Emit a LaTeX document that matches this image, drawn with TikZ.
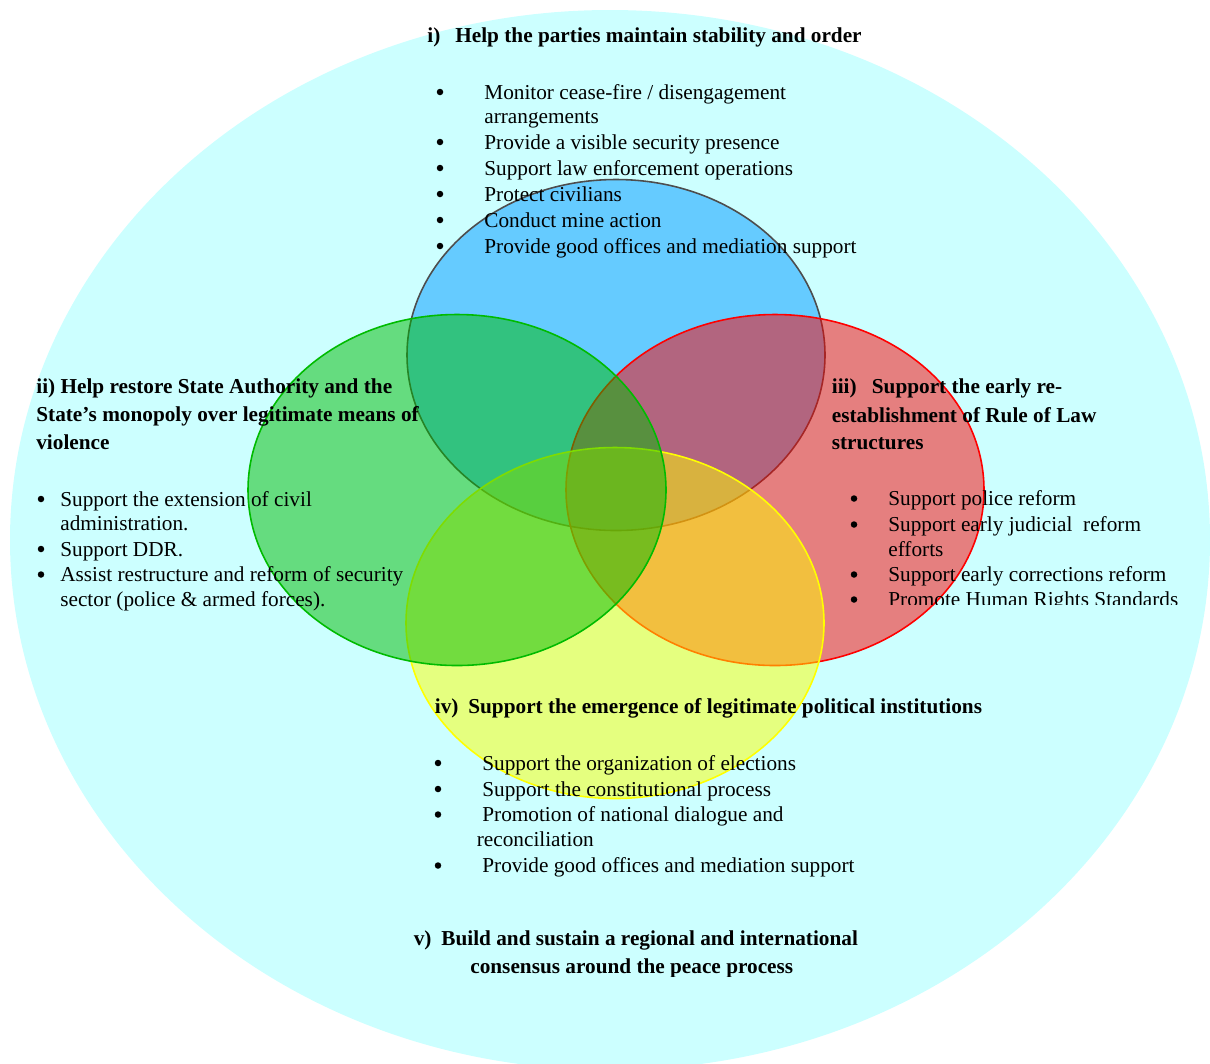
\documentclass[tikz,border=0pt]{standalone}
\usepackage{fontspec}
\setmainfont{Liberation Serif}
\usetikzlibrary{positioning}

\definecolor{skyfill}{RGB}{204,255,255}
\definecolor{setblue}{RGB}{0,153,255}
\definecolor{setred}{RGB}{255,0,0}
\definecolor{setyellow}{RGB}{255,255,0}
\definecolor{setgreen}{RGB}{0,187,0}
\definecolor{blueline}{RGB}{77,77,77}

\begin{document}
\begin{tikzpicture}[x=0.02cm, y=-0.02cm,
		itemline/.style={font=\fontsize{12.1}{14.5}\selectfont, anchor=base west, inner sep=0pt},
		headline/.style={itemline, font=\fontsize{12.1}{14.5}\selectfont\bfseries},
		dot/.style={circle, fill=black, inner sep=0pt, minimum size=3.7pt},
		venn/.style={line width=0.9pt, fill opacity=0.5}]

		\useasboundingbox (0,0) rectangle (1210,1063);

		% === outer region (v) ===
		\fill[skyfill] (610,540) ellipse [x radius=600, y radius=530];

		% === the four sets ===
		\def\rx{209}	\def\ry{175.5}
		\draw[venn, fill=setblue, draw=blueline]	(616,355) ellipse [x radius=\rx, y radius=\ry];
		\draw[venn, fill=setred, draw=setred]		(775,490) ellipse [x radius=\rx, y radius=\ry];
		\draw[venn, fill=setyellow, draw=setyellow]	(615,623) ellipse [x radius=\rx, y radius=\ry];
		\draw[venn, fill=setgreen, draw=setgreen]	(457,490) ellipse [x radius=\rx, y radius=\ry];

		% === i) stability and order ===
		\node[headline] (num1) at (427,42) {i)};
		\node[headline] (head1) at (455,42) {Help the parties maintain stability and order};
		\foreach \y/\t [count=\k] in {99/{Monitor cease-fire / disengagement}, 123/arrangements,
				149/{Provide a visible security presence}, 175/{Support law enforcement operations},
				201/{Protect civilians}, 227/{Conduct mine action},
				253/{Provide good offices and mediation support}}
			\node[itemline] (txt1-\k) at (484,\y) {\t};
		\foreach \y [count=\k] in {99,149,175,201,227,253}
			\node[dot] (dot1-\k) at (440,\y-7) {};

		% === ii) State authority ===
		\foreach \y/\t [count=\k] in {393/{ii) Help restore State Authority and the},
				421.5/{State’s monopoly over legitimate means of}, 449/violence}
			\node[headline] (head2-\k) at (36,\y) {\t};
		\foreach \y/\t [count=\k] in {506/{Support the extension of civil}, 530/{administration.},
				556/{Support DDR.}, 581.5/{Assist restructure and reform of security},
				606.5/{sector (police \& armed forces).}}
			\node[itemline] (txt2-\k) at (60,\y) {\t};
		\foreach \y [count=\k] in {506,556,581.5}
			\node[dot] (dot2-\k) at (41,\y-7) {};

		% === iii) Rule of Law ===
		\node[headline] (num3) at (831.5,393) {iii)};
		\node[headline] (head3-1) at (871.5,393) {Support the early re-};
		\node[headline] (head3-2) at (831.5,422) {establishment of Rule of Law};
		\node[headline] (head3-3) at (831.5,449) {structures};
		\foreach \y/\t [count=\k] in {505.5/{Support police reform}, 531.5/{Support early judicial~ reform},
				556/efforts, 581.5/{Support early corrections reform}}
			\node[itemline] (txt3-\k) at (888,\y) {\t};
		\begin{scope}
			\clip (880,585) rectangle (1210,604.5);
			\node[itemline] (txt3-5) at (888,606.5) {Promote Human Rights Standards};
		\end{scope}
		\foreach \y [count=\k] in {505.5,531.5,581.5,606.5}
			\node[dot] (dot3-\k) at (854,\y-7) {};

		% === iv) political institutions ===
		\node[headline] (num4) at (434.5,713) {iv)};
		\node[headline] (head4) at (468,713) {Support the emergence of legitimate political institutions};
		\foreach \y/\t [count=\k] in {770/{Support the organization of elections},
				796/{Support the constitutional process}, 821.5/{Promotion of national dialogue and},
				872.5/{Provide good offices and mediation support}}
			\node[itemline] (txt4-\k) at (482,\y) {\t};
		\node[itemline] (txt4-5) at (476.5,846.5) {reconciliation};
		\foreach \y [count=\k] in {770,796,821.5,872.5}
			\node[dot] (dot4-\k) at (438,\y-7) {};

		% === v) regional consensus ===
		\node[headline] (num5) at (413.5,945.5) {v)};
		\node[headline] (head5-1) at (441,945.5) {Build and sustain a regional and international};
		\begin{scope}
			\clip (460,950) rectangle (820,976);
			\node[headline] (head5-2) at (470,973) {consensus around the peace process};
		\end{scope}
	\end{tikzpicture}
\end{document}
